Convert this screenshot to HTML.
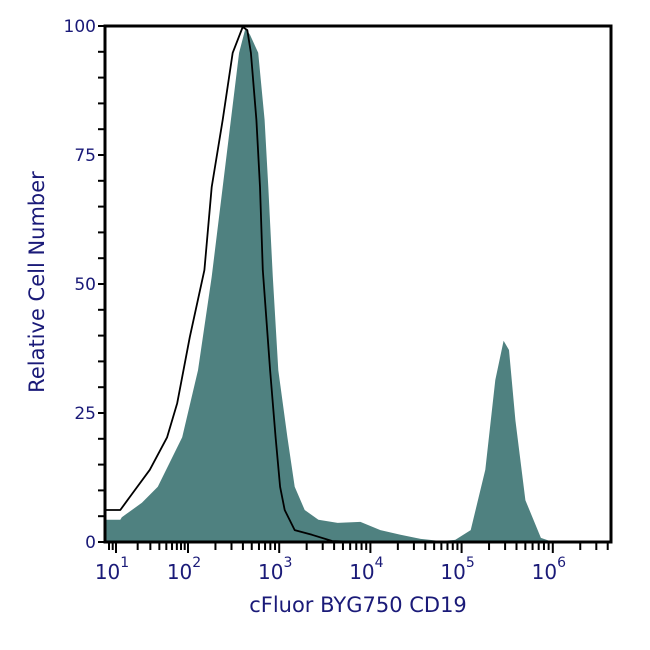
<!DOCTYPE html>
<html><head><meta charset="utf-8"><style>
html,body{margin:0;padding:0;background:#fff;width:650px;height:650px;overflow:hidden}
svg{display:block;font-family:"DejaVu Sans","Liberation Sans",sans-serif}
</style></head><body>
<svg id="chart" width="650" height="650">
<g id="marks"></g>
<g id="axes"></g>
</svg>
<script>
// stained sample histogram (log10 fluorescence, relative count)
const stainedLog = [0.85,1.06,1.08,1.36,1.58,1.92,2.11,2.26,2.38,2.47,2.56,2.63,2.68,2.77,2.84,2.88,2.93,2.99,3.09,3.17,3.28,3.43,3.64,3.89,4.11,4.33,4.55,4.77,4.93,5.10,5.26,5.37,5.46,5.52,5.59,5.70,5.87,6.0];
const stainedCount = [4.3,4.3,4.8,7.6,10.7,20.3,33.3,51.4,68.8,81.8,94.8,99.6,98.3,94.8,81.8,68.8,51.4,33.3,20.3,10.7,6.2,4.3,3.7,3.9,2.3,1.4,0.6,0.2,0.4,2.3,14,31.4,39,37.2,23.6,8.1,0.8,0];
// isotype control histogram
const controlLog = [0.85,1.06,1.19,1.47,1.71,1.85,2.02,2.18,2.26,2.38,2.49,2.60,2.65,2.69,2.75,2.79,2.82,2.90,2.96,3.01,3.06,3.17,3.36,3.58,3.89];
const controlCount = [6.2,6.2,8.7,14,20.3,26.9,39.7,52.7,68.8,81.8,94.8,99.8,99.2,94.8,81.8,68.8,52.7,33.3,20.3,10.7,6.2,2.3,1.4,0.2,0];
const yTicks = [0,25,50,75,100];
const xDecades = [1,2,3,4,5,6];

const L=105,R=611,T=26,B=542;
function xs(lv){ return lv<2 ? 116+(lv-1)*72 : 188+(lv-2)*91.2; }
function ys(v){ return B-(v/100)*(B-T); }
const NS="http://www.w3.org/2000/svg";
function mk(tag,attrs,parent){const e=document.createElementNS(NS,tag);for(const k in attrs)e.setAttribute(k,attrs[k]);parent.appendChild(e);return e;}
const marks=document.getElementById('marks'), axes=document.getElementById('axes');

let d=`M${xs(stainedLog[0])},${B}`;
stainedLog.forEach((l,i)=>{d+=` L${xs(l).toFixed(1)},${ys(stainedCount[i]).toFixed(1)}`;});
d+=` L${xs(stainedLog[stainedLog.length-1])},${B} Z`;
const fill=mk('path',{d:d,fill:'#4f8180',stroke:'none'},marks);



let d2='';
controlLog.forEach((l,i)=>{d2+=(i?' L':'M')+xs(l).toFixed(1)+','+ys(controlCount[i]).toFixed(1);});
const ctl=mk('path',{d:d2,fill:'none',stroke:'#000','stroke-width':1.8,'stroke-linejoin':'round'},marks);



const frame=mk('rect',{x:L,y:T,width:R-L,height:B-T,fill:'none',stroke:'#000','stroke-width':3},axes);



const col='#1a1a78';
for(let v=0;v<=100;v+=5){
  const y=ys(v);
  mk('line',{x1:L-7,x2:L,y1:y,y2:y,stroke:'#000','stroke-width':2},axes);
}
yTicks.forEach(v=>{
  const t=mk('text',{x:L-9,y:ys(v)+6,'text-anchor':'end','font-size':17,fill:col},axes);
  t.textContent=v;
  
  
});
for(let dec=0;dec<=6;dec++){
  for(let m=1;m<=9;m++){
    const lv=dec+Math.log10(m);
    if(lv<0.85||xs(lv)>R) continue;
    const x=xs(lv), major=m===1;
    mk('line',{x1:x,x2:x,y1:B,y2:B+(major?11:8),stroke:'#000','stroke-width':2},axes);
  }
}
xDecades.forEach(p=>{
  const t=mk('text',{x:xs(p)-4,y:B+37,'text-anchor':'middle','font-size':20,fill:col},axes);
  t.innerHTML='10<tspan dy="-12" font-size="14">'+p+'</tspan>';
  
  
});
const xt=mk('text',{x:358,y:612,'text-anchor':'middle','font-size':21,fill:col},axes);
xt.textContent='cFluor BYG750 CD19';


const yt=mk('text',{x:0,y:0,'text-anchor':'middle','font-size':21,fill:col,transform:'translate(44,282) rotate(-90)'},axes);
yt.textContent='Relative Cell Number';


</script>
</body></html>
